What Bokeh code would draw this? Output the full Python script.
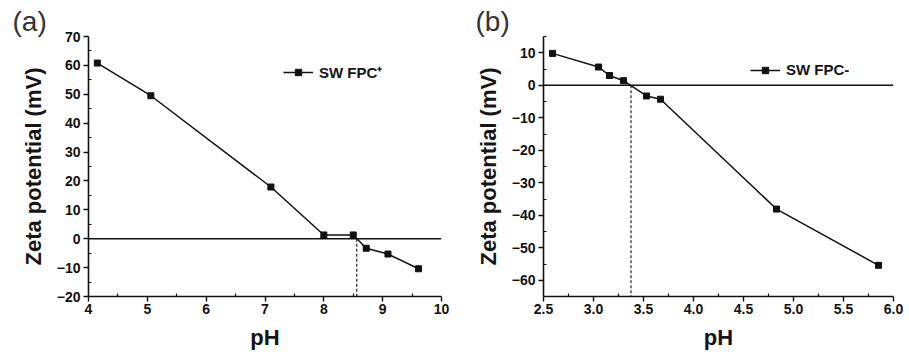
from bokeh.plotting import figure
from bokeh.layouts import row
from bokeh.models import FixedTicker, Span, Range1d, Title, PrintfTickFormatter
from bokeh.embed import file_html
from bokeh.resources import INLINE

# ---- data ----
a_ph = [4.15, 5.06, 7.10, 8.00, 8.50, 8.72, 9.09, 9.61]
a_zeta = [60.8, 49.5, 17.9, 1.3, 1.3, -3.3, -5.3, -10.4]
a_iep = 8.56
a_xticks = [4, 5, 6, 7, 8, 9, 10]
a_xminor = [4.5, 5.5, 6.5, 7.5, 8.5, 9.5]
a_yticks = [-20, -10, 0, 10, 20, 30, 40, 50, 60, 70]
a_yminor = [-15, -5, 5, 15, 25, 35, 45, 55, 65]

b_ph = [2.59, 3.05, 3.16, 3.30, 3.53, 3.67, 4.83, 5.85]
b_zeta = [9.8, 5.6, 3.0, 1.4, -3.3, -4.3, -38.1, -55.4]
b_iep = 3.375
b_xticks = [2.5, 3.0, 3.5, 4.0, 4.5, 5.0, 5.5, 6.0]
b_xminor = [2.75, 3.25, 3.75, 4.25, 4.75, 5.25, 5.75]
b_yticks = [-60, -50, -40, -30, -20, -10, 0, 10]
b_yminor = [-65, -55, -45, -35, -25, -15, -5, 5, 15]

FONT = "Liberation Sans"


def make_panel(ph, zeta, iep, xr, yr, xt, xm, yt, ym, legend, tag,
               width, border_left, border_right, xfmt, tag_x, leg_xy):
    p = figure(width=width, height=352, output_backend="svg", toolbar_location=None,
               x_range=Range1d(*xr), y_range=Range1d(*yr),
               min_border_left=border_left, min_border_right=border_right,
               min_border_top=36, min_border_bottom=54)
    p.outline_line_color = None
    p.xgrid.visible = False
    p.ygrid.visible = False
    p.background_fill_color = "white"
    p.border_fill_color = "white"

    p.title = Title(text=tag, align="left", offset=tag_x, standoff=0,
                    text_font=FONT, text_font_size="28px", text_font_style="normal",
                    text_color="#333333")

    p.xaxis.ticker = FixedTicker(ticks=xt, minor_ticks=xm)
    p.yaxis.ticker = FixedTicker(ticks=yt, minor_ticks=ym)
    if xfmt:
        p.xaxis.formatter = PrintfTickFormatter(format="%.1f")

    for ax in (p.xaxis[0], p.yaxis[0]):
        ax.axis_line_width = 1.6
        ax.axis_line_color = "#111111"
        ax.major_tick_line_color = "#111111"
        ax.minor_tick_line_color = "#111111"
        ax.major_tick_line_width = 1.4
        ax.minor_tick_line_width = 1.2
        ax.major_tick_out = 5
        ax.major_tick_in = 0
        ax.minor_tick_out = 0
        ax.minor_tick_in = 3
        ax.major_label_text_font = FONT
        ax.major_label_text_font_style = "bold"
        ax.major_label_text_font_size = "14px"
        ax.major_label_text_color = "#111111"
        ax.axis_label_text_font = FONT
        ax.axis_label_text_font_style = "bold"
        ax.axis_label_text_font_size = "22px"
        ax.axis_label_text_color = "#151515"

    p.xaxis.axis_label = "pH"
    p.yaxis.axis_label = "Zeta potential (mV)"
    p.xaxis.major_label_standoff = 2
    p.yaxis.major_label_standoff = 3
    p.xaxis.axis_label_standoff = 8
    p.yaxis.axis_label_standoff = 8

    p.add_layout(Span(location=0, dimension="width", line_color="#111111", line_width=1.5))
    p.segment(x0=[iep], y0=[0], x1=[iep], y1=[yr[0]], line_color="#111111",
              line_width=1.1, line_dash="3 2")

    p.line(ph, zeta, line_color="#111111", line_width=1.5, legend_label=legend)
    p.scatter(ph, zeta, marker="square", size=6, fill_color="#111111",
              line_color="#111111", legend_label=legend)

    lg = p.legend[0]
    lg.location = leg_xy
    lg.padding = 0
    lg.margin = 0
    lg.spacing = 0
    lg.border_line_alpha = 0
    lg.background_fill_alpha = 0
    lg.glyph_width = 30
    lg.glyph_height = 16
    lg.label_standoff = 6
    lg.label_text_font = FONT
    lg.label_text_font_style = "bold"
    lg.label_text_font_size = "15px"
    lg.label_text_color = "#151515"
    return p


pa = make_panel(a_ph, a_zeta, a_iep, (4, 10), (-20, 70), a_xticks, a_xminor,
                a_yticks, a_yminor, "SW FPC\u207a", "(a)", 460, 88, 19, False,
                -76, (195, 214))
pb = make_panel(b_ph, b_zeta, b_iep, (2.5, 6.0), (-65, 15), b_xticks, b_xminor,
                b_yticks, b_yminor, "SW FPC-", "(b)", 449, 83, 16, True,
                -68, (207, 218))

layout = row(pa, pb)
open("out.html", "w").write(file_html(layout, INLINE))
